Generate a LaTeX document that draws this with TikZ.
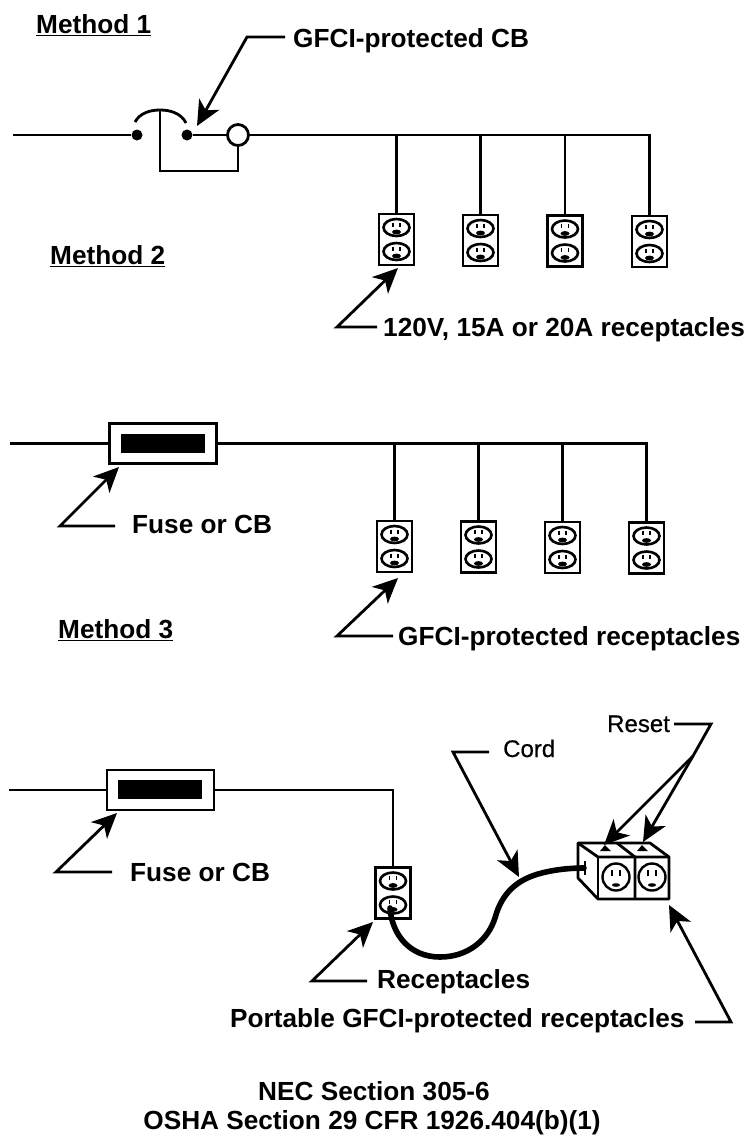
\documentclass[tikz,border=0pt]{standalone}
\usepackage{fontspec}
\setmainfont{Liberation Sans}
\newfontfamily\medfont[FakeBold=0.5]{Liberation Sans}
\usetikzlibrary{arrows.meta,calc}
\tikzset{
  wire/.style={line width=2.3pt,black},
  thick wire/.style={line width=2.8pt,black},
  leader/.style={line width=2.8pt,black,line join=miter},
  leadarrow/.style={leader,-{Stealth[length=25pt,width=23pt,inset=7pt]}},
  boldlabel/.style={font=\fontsize{26.2}{28}\selectfont\bfseries,inner sep=0pt,anchor=base west},
  thinlabel/.style={font=\fontsize{24}{26}\selectfont\medfont,inner sep=0pt,anchor=base west},
  recbox/.style={draw=black,line width=2.8pt,minimum width=35pt,minimum height=51pt,inner sep=0pt,fill=white},
  fusebox/.style={draw=black,line width=2.8pt,minimum width=107pt,minimum height=40pt,inner sep=0pt},
  fusecore/.style={fill=black,minimum width=84pt,minimum height=19pt,inner sep=0pt},
  dotnode/.style={circle,fill=black,minimum size=11pt,inner sep=0pt},
  trip/.style={circle,draw=black,line width=2.8pt,minimum size=21pt,inner sep=0pt},
  faceline/.style={line width=2.6pt,black},
}
\newcommand{\outletface}[2]{%
  \draw[faceline] (#1,#2) ellipse (13 and 8.5);
  \draw[line width=1.8pt] (#1-3.5,#2-5)--(#1-3.5,#2-1) (#1+3.5,#2-5)--(#1+3.5,#2-1);
  \fill (#1,#2+4.5) ellipse (4.5 and 2.4);
}
\newcommand{\recept}[3]{%
  \node[recbox] (#1) at (#2,#3) {};
  \outletface{#2}{#3-12}
  \outletface{#2}{#3+12}
}
\begin{document}
\begin{tikzpicture}[x=1pt,y=-1pt]
\useasboundingbox (0,0) rectangle (748,1136);
\fill[white] (0,0) rectangle (748,1136);

% ---- Method 1
\node[boldlabel] (m1) at (36,33) {Method 1};
\draw[line width=1.2pt] ([yshift=-2pt]m1.south west) -- ([yshift=-2pt]m1.south east);
\node[boldlabel] (cbt) at (293,47) {GFCI-protected CB};
\coordinate (a1s) at (285,37);
\coordinate (a1c) at (247,37);
\coordinate (a1t) at (197,126);
\draw[leadarrow] (a1s) -- (a1c) -- (a1t);

\coordinate (w1) at (13,135);
\node[dotnode] (d1) at (137,135) {};
\node[dotnode] (d2) at (187,135) {};
\node[trip] (t1) at (238,135) {};
\coordinate (bar) at (160,110);
\coordinate (barb) at (160,171);
\draw[thick wire] (w1) -- (d1);
\draw[thick wire] (d2) -- (t1);
\draw[thick wire] (135,122) .. controls (140,113) and (150,110) .. (bar) .. controls (170,110) and (181,113) .. (186,123);
\draw[thick wire] (bar) -- (barb) -| (t1.south);

\recept{r11}{396.5}{239.5}
\recept{r12}{480.5}{240.5}
\recept{r13}{565}{241}
\recept{r14}{649.5}{241.5}
\draw[wire] (t1.east) -- (r14.north |- t1.east) -- (r14.north);
\draw[wire] (r11.north) -- (r11.north |- t1.east);
\draw[wire] (r12.north) -- (r12.north |- t1.east);
\draw[wire] (r13.north) -- (r13.north |- t1.east);

\node[boldlabel] (m2) at (50,264) {Method 2};
\draw[line width=1.2pt] ([yshift=-2pt]m2.south west) -- ([yshift=-2pt]m2.south east);
\node[boldlabel] (rt1) at (383,336) {120V, 15A or 20A receptacles};
\coordinate (a2s) at (377,327);
\coordinate (a2c) at (337,327);
\coordinate (a2t) at (398,268);
\draw[leadarrow] (a2s) -- (a2c) -- (a2t);

% ---- Method 2
\coordinate (w2) at (10,443.5);
\node[fusebox] (f2) at (163,443.5) {};
\node[fusecore] (c2) at (163,443.5) {};
\recept{r21}{394.5}{546.5}
\recept{r22}{478.5}{547}
\recept{r23}{562.5}{547.5}
\recept{r24}{646.5}{548}
\draw[wire] (w2) -- (f2.west);
\draw[wire] (f2.east) -- (r24.north |- f2.east) -- (r24.north);
\draw[wire] (r21.north) -- (r21.north |- f2.east);
\draw[wire] (r22.north) -- (r22.north |- f2.east);
\draw[wire] (r23.north) -- (r23.north |- f2.east);
\node[boldlabel] (ft2) at (132,533) {Fuse or CB};
\coordinate (a3s) at (115,526);
\coordinate (a3c) at (60,526);
\coordinate (a3t) at (119,467);
\draw[leadarrow] (a3s) -- (a3c) -- (a3t);

\node[boldlabel] (m3) at (58,638) {Method 3};
\draw[line width=1.2pt] ([yshift=-2pt]m3.south west) -- ([yshift=-2pt]m3.south east);
\node[boldlabel] (rt2) at (398,645) {GFCI-protected receptacles};
\coordinate (a4s) at (393,636);
\coordinate (a4c) at (337,636);
\coordinate (a4t) at (398,578);
\draw[leadarrow] (a4s) -- (a4c) -- (a4t);

% ---- Method 3
\coordinate (w3) at (9,790);
\node[fusebox] (f3) at (160.5,790) {};
\node[fusecore] (c3) at (160,789.5) {};
\recept{r3}{393}{893}
\draw[wire] (w3) -- (f3.west);
\draw[wire] (f3.east) -- (r3.north |- f3.east) -- (r3.north);
\node[boldlabel] (ft3) at (130,881) {Fuse or CB};
\coordinate (a5s) at (112,872);
\coordinate (a5c) at (56,872);
\coordinate (a5t) at (117,813);
\draw[leadarrow] (a5s) -- (a5c) -- (a5t);

\node[boldlabel] (rcpt) at (377,988) {Receptacles};
\coordinate (a6s) at (367,981);
\coordinate (a6c) at (312,981);
\coordinate (a6t) at (373,922);
\draw[leadarrow] (a6s) -- (a6c) -- (a6t);

% cord
\draw[line width=5.6pt,line cap=round] (390,908) .. controls (392,935) and (410,957) .. (440,957) .. controls (468,957) and (488,940) .. (495,918) .. controls (502,892) and (518,880) .. (538,874) .. controls (552,870) and (568,868) .. (584,868);

% portable unit
\draw[line width=2.8pt,line join=round] (578,843) -- (650,843) -- (669,857) -- (669,899) -- (598,899) -- (578,878) -- cycle;
\draw[line width=2.8pt] (578,843) -- (598,857) -- (669,857);
\draw[line width=2.8pt] (598,857) -- (598,899);
\draw[line width=2.8pt] (617,843) -- (635,857) -- (635,899);
\node[circle,draw=black,line width=2.4pt,minimum size=27pt,inner sep=0pt] (o1) at (616,877) {};
\node[circle,draw=black,line width=2.4pt,minimum size=27pt,inner sep=0pt] (o2) at (652,877) {};
\draw[line width=1.8pt] (612,870)--(612,876) (620,870)--(620,876) (648,870)--(648,876) (656,870)--(656,876);
\fill (616,885) ellipse (4 and 1.8);
\fill (652,885) ellipse (4 and 1.8);
\draw[line width=2.8pt] (585,861) -- (585,875);
\fill (600,851) -- (611,851) -- (605,845) -- cycle;
\fill (637,851) -- (648,851) -- (642,845) -- cycle;

% cord label
\node[thinlabel] (cord) at (503,757) {Cord};
\coordinate (a7s) at (489,752);
\coordinate (a7c) at (453,752);
\coordinate (a7t) at (519,877);
\draw[leadarrow] (a7s) -- (a7c) -- (a7t);

% reset label
\node[thinlabel] (reset) at (607,732) {Reset};
\coordinate (a8s) at (674,724);
\coordinate (a8c) at (711,724);
\coordinate (a8j) at (693,756);
\coordinate (a8t) at (604,845);
\coordinate (a9t) at (643,842);
\draw[leader] (a8s) -- (a8c) -- (a8j);
\draw[leadarrow] (a8j) -- (a8t);
\draw[leadarrow] (a8j) -- (a9t);

% portable label
\node[boldlabel] (pt) at (230,1027) {Portable GFCI-protected receptacles};
\coordinate (a10s) at (695,1022);
\coordinate (a10c) at (731,1022);
\coordinate (a10t) at (669,905);
\draw[leadarrow] (a10s) -- (a10c) -- (a10t);

\node[boldlabel,anchor=base] (nec) at (374,1100) {NEC Section 305-6};
\node[boldlabel,anchor=base] (osha) at (372,1129) {OSHA Section 29 CFR 1926.404(b)(1)};
\end{tikzpicture}
\end{document}
